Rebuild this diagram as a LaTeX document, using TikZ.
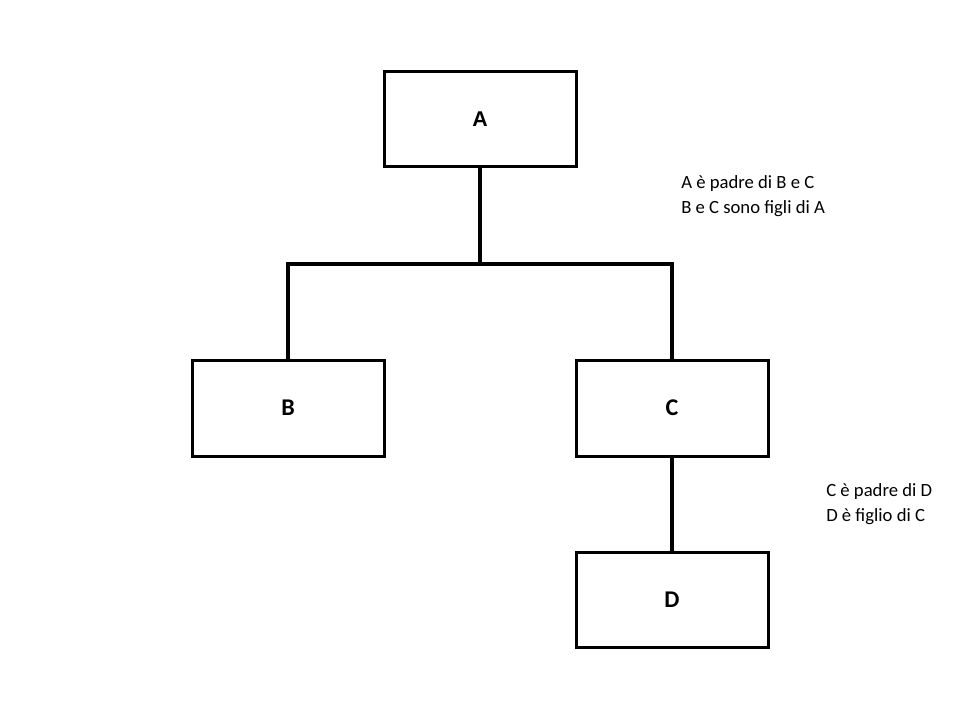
\documentclass[tikz,border=0pt]{standalone}
\usepackage{fontspec}
\setmainfont{Carlito}
\newfontfamily\arialfont{Liberation Sans}
\begin{document}
\begin{tikzpicture}[x=0.75pt,y=-0.75pt,
  treebox/.style={draw=black,line width=2.25pt,minimum width=144pt,minimum height=71.25pt,inner sep=0pt,font=\fontsize{18}{21}\selectfont\bfseries},
  link/.style={line width=3pt,draw=black},
  note/.style={anchor=north west,align=left,inner sep=0pt,font=\fontsize{14}{18.75}\selectfont}]
\useasboundingbox[fill=white] (0,0) rectangle (960,720);
\node[treebox,font=\fontsize{16}{19}\selectfont\arialfont\bfseries] (A) at (480,119.5) {A};
\node[treebox,minimum height=72pt] (B) at (288,408) {B};
\node[treebox,minimum height=72pt] (C) at (672,408) {C};
\node[treebox] (D) at (672,599.5) {D};
\coordinate (J) at (480,264);
\draw[link] (A.south) -- (J);
\draw[link] (B.north) |- (J) -| (C.north);
\draw[link] (C.south) -- (D.north);
\node[note] (n1) at (681,175) {A è padre di B e C\\B e C sono figli di A};
\node[note] (n2) at (826,483) {C è padre di D\\D è figlio di C};
\end{tikzpicture}
\end{document}
